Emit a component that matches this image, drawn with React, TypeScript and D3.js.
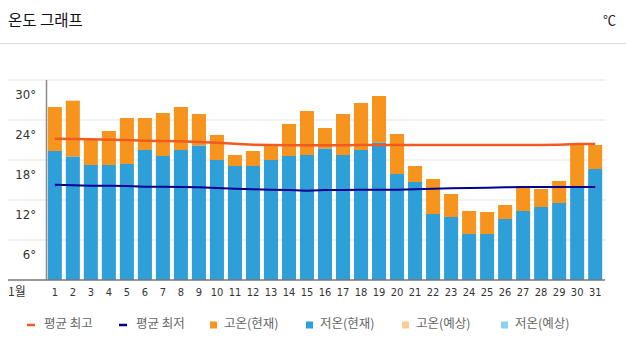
import React from "react";
import * as d3 from "d3";

const days: number[] = d3.range(1, 32);
const highNow: number[] = [25.95, 26.9, 21.0, 22.35, 24.3, 24.3, 25.05, 25.95, 24.9, 21.75, 18.75, 19.35, 20.25, 23.4, 25.35, 22.8, 24.9, 26.55, 27.6, 21.9, 17.1, 15.15, 12.9, 10.35, 10.2, 11.25, 13.9, 13.65, 14.85, 20.45, 20.25];
const lowNow: number[] = [19.35, 18.5, 17.25, 17.25, 17.4, 19.5, 18.6, 19.5, 20.15, 18.0, 17.1, 17.1, 18.0, 18.6, 18.75, 19.7, 18.75, 19.5, 20.6, 15.9, 14.7, 9.9, 9.45, 6.9, 6.9, 9.15, 10.35, 10.95, 11.55, 14.0, 16.65];
const avgHigh: number[] = [21.2, 21.15, 21.1, 21.05, 21.0, 20.9, 20.85, 20.8, 20.7, 20.6, 20.45, 20.3, 20.25, 20.2, 20.2, 20.2, 20.2, 20.25, 20.25, 20.25, 20.25, 20.25, 20.25, 20.25, 20.25, 20.25, 20.25, 20.25, 20.3, 20.4, 20.4];
const avgLow: number[] = [14.3, 14.2, 14.15, 14.15, 14.1, 14.0, 14.0, 13.95, 13.9, 13.8, 13.7, 13.6, 13.55, 13.5, 13.4, 13.5, 13.5, 13.55, 13.55, 13.55, 13.6, 13.7, 13.75, 13.8, 13.85, 13.9, 13.95, 13.95, 13.95, 13.95, 13.95];
const yTicks: number[] = [6, 12, 18, 24, 30];
const legendItems: { label: string; kind: string; color: string; x: number }[] = [
  { label: "평균 최고", kind: "line", color: "#F15A22", x: 27 },
  { label: "평균 최저", kind: "line", color: "#000090", x: 119 },
  { label: "고온(현재)", kind: "rect", color: "#F7941E", x: 210 },
  { label: "저온(현재)", kind: "rect", color: "#2E9FD9", x: 306 },
  { label: "고온(예상)", kind: "rect", color: "#FDC994", x: 402 },
  { label: "저온(예상)", kind: "rect", color: "#8FD0F0", x: 501 },
];

const W = 626;
const H = 353;
const ORANGE = "#F7941E";
const BLUE = "#2E9FD9";
const narrow = "'Liberation Sans Narrow', 'DejaVu Sans Condensed', 'Liberation Sans', sans-serif";
const kr = "'Noto Sans CJK KR', 'Noto Sans', sans-serif";

export default function App() {
  const x = d3.scaleBand<number>().domain(days).range([46, 604]).paddingInner(0.22).paddingOuter(0.1);
  const y = d3.scaleLinear().domain([0, 30]).range([280, 80]);
  const cx = (d: number) => (x(d) as number) + x.bandwidth() / 2;
  const lineHigh = d3.line<number>().x((_, i) => cx(days[i])).y((v) => y(v));
  return (
    <div style={{ position: "fixed", left: 0, top: 0, width: W, height: H, background: "#fff" }}>
      <svg width={W} height={H} style={{ display: "block" }}>
        <rect width={W} height={H} fill="#fff" />
        <text x={8} y={26} fontFamily={kr} fontSize={15.5} fill="#111">온도 그래프</text>
        <text x={616} y={25} textAnchor="end" fontFamily={kr} fontSize={13} fill="#222">℃</text>
        <line x1={0} x2={W} y1={43.5} y2={43.5} stroke="#dcdcdc" strokeWidth={1} />
        {yTicks.map((t) => (
          <g key={t}>
            <line x1={8} x2={605} y1={y(t)} y2={y(t)} stroke="#eeeeee" strokeWidth={1.5} />
            <text x={36} y={y(t) + 15} textAnchor="end" dominantBaseline="middle" fontFamily={narrow} fontSize={13} fill="#333">{t}°</text>
          </g>
        ))}
        {days.map((d, i) => (
          <g key={d}>
            <rect x={x(d)} width={x.bandwidth()} y={y(highNow[i])} height={y(lowNow[i]) - y(highNow[i])} fill={ORANGE} />
            <rect x={x(d)} width={x.bandwidth()} y={y(lowNow[i])} height={y(0) - y(lowNow[i])} fill={BLUE} />
            <text x={cx(d)} y={293} textAnchor="middle" dominantBaseline="middle" fontFamily={narrow} fontSize={11} fill="#333">{d}</text>
          </g>
        ))}
        <line x1={46.5} x2={46.5} y1={80} y2={280} stroke="#8a8a8a" strokeWidth={1.5} />
        <line x1={8} x2={605} y1={280} y2={280} stroke="#777" strokeWidth={1.5} />
        <text x={8} y={293} dominantBaseline="middle" fontFamily={kr} fontSize={12} fill="#333">1월</text>
        <path d={lineHigh(avgHigh) || ""} fill="none" stroke="#F15A22" strokeWidth={2.5} />
        <path d={lineHigh(avgLow) || ""} fill="none" stroke="#000090" strokeWidth={2} />
        {legendItems.map((it) => (
          <g key={it.label}>
            {it.kind === "line" ? (
              <line x1={it.x} x2={it.x + 8} y1={325} y2={325} stroke={it.color} strokeWidth={2.5} />
            ) : (
              <rect x={it.x} y={321.5} width={7} height={7} fill={it.color} />
            )}
            <text x={it.x + (it.kind === "line" ? 17 : 14)} y={325} dominantBaseline="middle" fontFamily={kr} fontSize={12.5} fill="#666">{it.label}</text>
          </g>
        ))}
      </svg>
    </div>
  );
}
